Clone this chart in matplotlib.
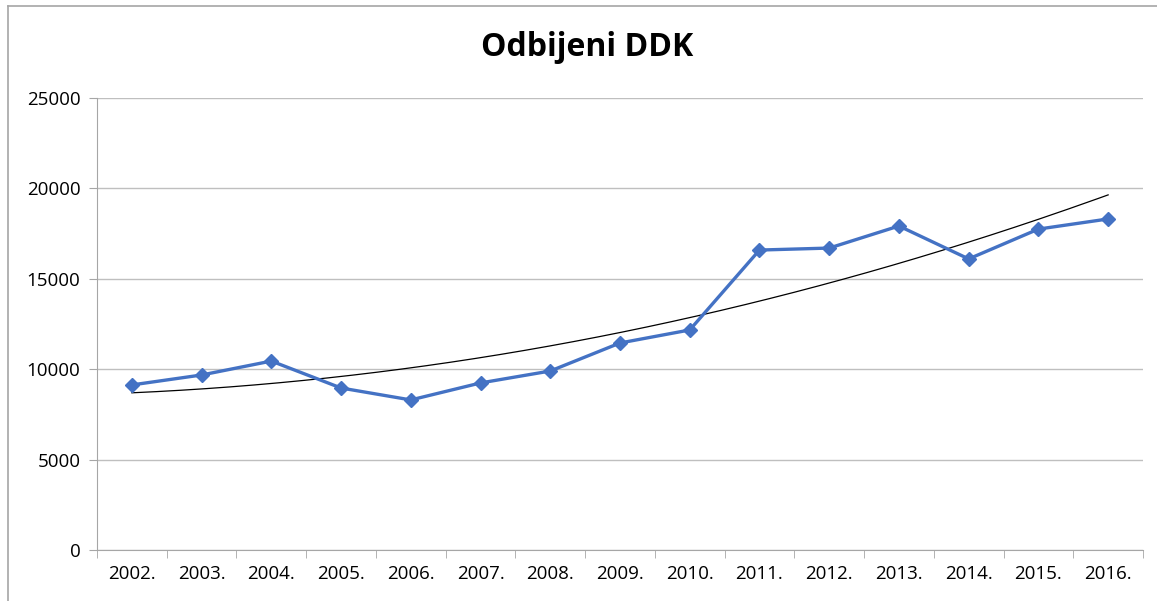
import numpy as np
import matplotlib.pyplot as plt
from matplotlib.lines import Line2D

plt.rcParams['font.family'] = ['Open Sans', 'DejaVu Sans']

godine = ['2002.', '2003.', '2004.', '2005.', '2006.', '2007.', '2008.', '2009.',
          '2010.', '2011.', '2012.', '2013.', '2014.', '2015.', '2016.']
odbijeni = [9130, 9680, 10450, 8960, 8300, 9240, 9900, 11450,
            12170, 16590, 16700, 17920, 16100, 17750, 18310]
y_ticks = [0, 5000, 10000, 15000, 20000, 25000]

x = np.arange(len(godine))
y = np.array(odbijeni)

# polinomski trend (2. red), kao u Excelu
koef = np.polyfit(x, y, 2)
xt = np.linspace(0, len(godine) - 1, 200)
yt = np.polyval(koef, xt)

fig = plt.figure(figsize=(11.57, 6.01), dpi=100)
ax = fig.add_axes([97 / 1157, 51 / 601, 1046 / 1157, 452 / 601])

siva = '#a6a6a6'
ax.set_ylim(0, 25000)
ax.set_xlim(-0.5, len(godine) - 0.5)
ax.set_yticks(y_ticks)
ax.set_yticklabels([str(v) for v in y_ticks], fontsize=13.5)
ax.yaxis.grid(True, color='#bfbfbf', linewidth=1)
ax.set_axisbelow(True)

ax.set_xticks(x)
ax.set_xticklabels(godine, fontsize=13.5)
ax.set_xticks(np.arange(-0.5, len(godine)), minor=True)
ax.tick_params(axis='x', which='major', length=0, pad=11)
ax.tick_params(axis='x', which='minor', length=6, color=siva)
ax.tick_params(axis='y', length=6, color=siva, pad=6)

for s in ['top', 'right']:
    ax.spines[s].set_visible(False)
for s in ['left', 'bottom']:
    ax.spines[s].set_color(siva)

ax.plot(xt, yt, color='black', linewidth=0.9, zorder=2)
ax.plot(x, y, color='#4472c4', linewidth=2.4, marker='D', markersize=7, zorder=3)

fig.text(587 / 1157, 1 - 48 / 601, 'Odbijeni DDK', ha='center', va='center',
         fontsize=23, fontweight='bold')

# okvir grafikona
fig.add_artist(Line2D([8 / 1157, 1], [1 - 6 / 601, 1 - 6 / 601],
                      transform=fig.transFigure, color=siva, linewidth=1.2))
fig.add_artist(Line2D([8 / 1157, 8 / 1157], [0, 1 - 6 / 601],
                      transform=fig.transFigure, color=siva, linewidth=1.2))

fig.savefig('out.png', dpi=100)
